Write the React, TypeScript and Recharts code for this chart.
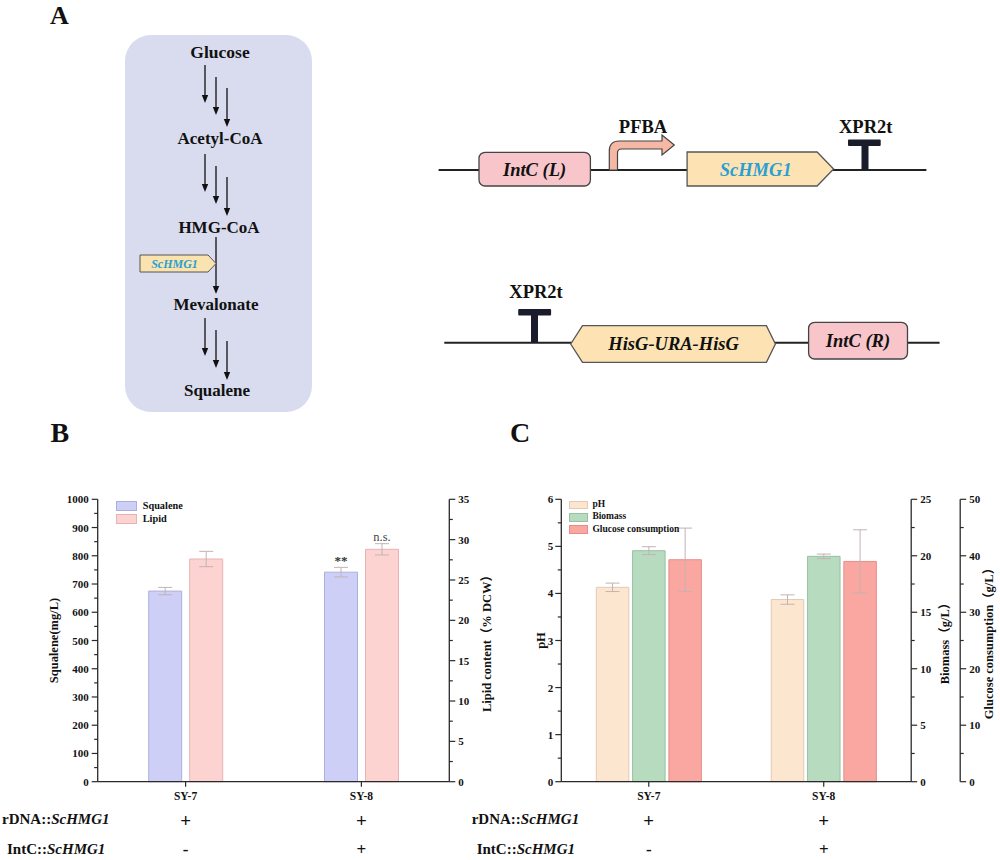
import React from 'react';
import { BarChart, Bar, XAxis, YAxis, ErrorBar, LabelList, Legend } from 'recharts';

const FONT = "'Liberation Serif', 'Times New Roman', 'Noto Sans CJK SC', serif";
const AXIS = '#2a2a2a';

// ---------- shared categories ----------
const strains = ['SY-7', 'SY-8'];
const rdnaMarks = ['+', '+'];
const intcMarks = ['-', '+'];

// ---------- panel B ----------
const squaleneValues = [675, 742];
const squaleneErrors = [13, 17];
const squaleneSig = ['', '**'];
const lipidValues = [27.6, 28.8];
const lipidErrors = [0.95, 0.7];
const lipidSig = ['', 'n.s.'];
const squaleneTicks = [0, 100, 200, 300, 400, 500, 600, 700, 800, 900, 1000];
const lipidTicks = [0, 5, 10, 15, 20, 25, 30, 35];
const legendOrderB = ['Squalene', 'Lipid'];

// ---------- panel C ----------
const phValues = [4.13, 3.87];
const phErrors = [0.09, 0.1];
const biomassValues = [20.45, 19.95];
const biomassErrors = [0.35, 0.2];
const glucoseValues = [39.3, 39.0];
const glucoseErrors = [5.6, 5.6];
const phTicks = [0, 1, 2, 3, 4, 5, 6];
const biomassTicks = [0, 5, 10, 15, 20, 25];
const glucoseTicks = [0, 10, 20, 30, 40, 50];
const legendOrderC = ['pH', 'Biomass', 'Glucose consumption'];

const COLORS: Record<string, { fill: string; stroke: string }> = {
  Squalene: { fill: '#cdcff7', stroke: '#aeb0dc' },
  Lipid: { fill: '#fdd3d1', stroke: '#e6b4b2' },
  pH: { fill: '#fde6cf', stroke: '#e2cab4' },
  Biomass: { fill: '#b7dbbf', stroke: '#98c0a2' },
  'Glucose consumption': { fill: '#fba7a1', stroke: '#e68d88' },
};
const ERR = '#c4b2b2';

const dataB = strains.map((name, i) => ({
  name,
  squalene: squaleneValues[i],
  squaleneErr: squaleneErrors[i],
  squaleneSig: squaleneSig[i],
  lipid: lipidValues[i],
  lipidErr: lipidErrors[i],
  lipidSig: lipidSig[i],
}));

const dataC = strains.map((name, i) => ({
  name,
  ph: phValues[i],
  phErr: phErrors[i],
  biomass: biomassValues[i],
  biomassErr: biomassErrors[i],
  glucose: glucoseValues[i],
  glucoseErr: glucoseErrors[i],
}));

const withMinor = (ticks: number[]) => {
  const out: number[] = [];
  ticks.forEach((t, i) => {
    out.push(t);
    if (i < ticks.length - 1) out.push((t + ticks[i + 1]) / 2);
  });
  return out;
};

const YTick = (props: any) => {
  const { x, y, payload, side, majors, gap = 9 } = props;
  const isMajor = majors.includes(payload.value);
  const dir = side === 'left' ? -1 : 1;
  const len = isMajor ? 6 : 3.5;
  return (
    <g>
      <line x1={x} y1={y} x2={x + dir * len} y2={y} stroke={AXIS} strokeWidth={1.2} />
      {isMajor && (
        <text
          x={x + dir * gap}
          y={y}
          textAnchor={side === 'left' ? 'end' : 'start'}
          dominantBaseline="central"
          fontFamily={FONT}
          fontWeight="bold"
          fontSize={11}
          fill="#111"
        >
          {payload.value}
        </text>
      )}
    </g>
  );
};

const XTick = (props: any) => {
  const { x, y, payload, index, rowX } = props;
  return (
    <g fontFamily={FONT} fontWeight="bold" fill="#111">
      <line x1={x} y1={y} x2={x} y2={y + 5} stroke={AXIS} strokeWidth={1.2} />
      <text x={x} y={y + 14.5} textAnchor="middle" dominantBaseline="central" fontSize={11.5}>
        {payload.value}
      </text>
      <text x={x} y={y + 38.5} textAnchor="middle" dominantBaseline="central" fontSize={19}>
        {rdnaMarks[index]}
      </text>
      <text x={x} y={y + 67.5} textAnchor="middle" dominantBaseline="central" fontSize={17}>
        {intcMarks[index]}
      </text>
      {index === 0 && (
        <>
          <text x={rowX} y={y + 37.5} dominantBaseline="central" fontSize={15}>
            rDNA::<tspan fontStyle="italic">ScHMG1</tspan>
          </text>
          <text x={rowX + 5} y={y + 67.5} dominantBaseline="central" fontSize={15}>
            IntC::<tspan fontStyle="italic">ScHMG1</tspan>
          </text>
        </>
      )}
    </g>
  );
};

const yLabel = (text: string, dx: number) => ({
  content: (p: any) => {
    const vb = p.viewBox || { x: 0, y: 0, width: 0, height: 0 };
    const cx = vb.x + dx;
    const cy = vb.y + vb.height / 2;
    return (
      <text
        x={cx}
        y={cy}
        transform={`rotate(-90 ${cx} ${cy})`}
        textAnchor="middle"
        dominantBaseline="central"
        fontFamily={FONT}
        fontWeight="bold"
        fontSize={12.5}
        fill="#111"
      >
        {text}
      </text>
    );
  },
});

const makeLegend = (order: string[], cfg: { fontSize: number; rowH: number; sw: number; sh: number; gap: number }) =>
  (props: any) => {
    const items = [...(props.payload || [])].sort(
      (a: any, b: any) => order.indexOf(a.value) - order.indexOf(b.value)
    );
    return (
      <div style={{ fontFamily: FONT, fontWeight: 'bold', fontSize: cfg.fontSize, color: '#111' }}>
        {items.map((it: any) => (
          <div key={it.value} style={{ display: 'flex', alignItems: 'center', height: cfg.rowH }}>
            <div
              style={{
                width: cfg.sw,
                height: cfg.sh,
                background: COLORS[it.value]?.fill || it.color,
                border: `1px solid ${COLORS[it.value]?.stroke || it.color}`,
                boxSizing: 'border-box',
              }}
            />
            <span style={{ marginLeft: cfg.gap, lineHeight: 1, whiteSpace: 'nowrap' }}>{it.value}</span>
          </div>
        ))}
      </div>
    );
  };

const legendB = makeLegend(legendOrderB, { fontSize: 10.3, rowH: 13.3, sw: 20.7, sh: 10.3, gap: 6 });
const legendC = makeLegend(legendOrderC, { fontSize: 9.5, rowH: 12.2, sw: 18.9, sh: 8.8, gap: 4.8 });

const txt = { fontFamily: FONT, fontWeight: 'bold' as const, fill: '#111' };

const Arrow = ({ x, y1, y2 }: { x: number; y1: number; y2: number }) => (
  <g>
    <line x1={x} y1={y1} x2={x} y2={y2 - 7} stroke="#111" strokeWidth={1.3} />
    <polygon points={`${x - 3.2},${y2 - 8} ${x + 3.2},${y2 - 8} ${x},${y2}`} fill="#111" />
  </g>
);

const Triple = ({ y0 }: { y0: number }) => (
  <g>
    <Arrow x={205} y1={y0} y2={y0 + 38} />
    <Arrow x={216} y1={y0 + 12} y2={y0 + 50} />
    <Arrow x={227} y1={y0 + 23} y2={y0 + 62} />
  </g>
);

const PanelA = () => (
  <svg width={1000} height={460} style={{ position: 'absolute', left: 0, top: 0 }}>
    <text x={50} y={23.5} fontSize={26} {...txt}>A</text>
    <text x={50.5} y={442.3} fontSize={28} {...txt}>B</text>
    <text x={510} y={442.3} fontSize={28} {...txt}>C</text>

    {/* pathway */}
    <rect x={125} y={35} width={187} height={377} rx={26} fill="#d9dcef" />
    <text x={220} y={52} textAnchor="middle" dominantBaseline="central" fontSize={17.5} {...txt}>Glucose</text>
    <Triple y0={65} />
    <text x={220} y={138} textAnchor="middle" dominantBaseline="central" fontSize={17} {...txt}>Acetyl-CoA</text>
    <Triple y0={154} />
    <text x={219} y={227} textAnchor="middle" dominantBaseline="central" fontSize={17} {...txt}>HMG-CoA</text>
    <Arrow x={216} y1={237} y2={294} />
    <polygon points="140,255 208,255 216,263.5 208,272 140,272" fill="#fbe3b0" stroke="#555" strokeWidth={1} />
    <text x={174.5} y={263.5} textAnchor="middle" dominantBaseline="central" fontSize={12} fontFamily={FONT} fontWeight="bold" fontStyle="italic" fill="#2a9fd0">ScHMG1</text>
    <text x={216} y={304} textAnchor="middle" dominantBaseline="central" fontSize={17} {...txt}>Mevalonate</text>
    <Triple y0={318} />
    <text x={217} y={390} textAnchor="middle" dominantBaseline="central" fontSize={17} {...txt}>Squalene</text>

    {/* construct line 1 */}
    <line x1={438.6} y1={170} x2={926.4} y2={170} stroke="#222" strokeWidth={2} />
    <rect x={479} y={152.3} width={111.4} height={33.7} rx={6} fill="#f8c6ca" stroke="#444" strokeWidth={1.3} />
    <text x={534.6} y={170} textAnchor="middle" dominantBaseline="central" fontSize={18.5} fontFamily={FONT} fontWeight="bold" fontStyle="italic" fill="#111">IntC (L)</text>
    <path
      d="M609.3,170 L609.3,151 Q609.3,141 619.3,141 L662,141 L662,135 L674.3,145 L662,155 L662,149 L621.5,149 Q617.5,149 617.5,153 L617.5,170 Z"
      fill="#f6b8a5"
      stroke="#444"
      strokeWidth={1.2}
    />
    <text x={643} y={127} textAnchor="middle" dominantBaseline="central" fontSize={18.5} {...txt}>PFBA</text>
    <polygon points="687.1,152 817.1,152 833.6,169 817.1,186 687.1,186" fill="#fde3b3" stroke="#555" strokeWidth={1.3} />
    <text x={755.7} y={170} textAnchor="middle" dominantBaseline="central" fontSize={18.5} fontFamily={FONT} fontWeight="bold" fontStyle="italic" fill="#2a9fd4">ScHMG1</text>
    <rect x={861.5} y={142} width={7} height={28} fill="#1a1c2c" />
    <rect x={848} y={139.5} width={32.7} height={6.5} rx={1} fill="#1a1c2c" />
    <text x={865.7} y={127} textAnchor="middle" dominantBaseline="central" fontSize={18.5} {...txt}>XPR2t</text>

    {/* construct line 2 */}
    <line x1={444.3} y1={342.7} x2={939.6} y2={342.7} stroke="#222" strokeWidth={2} />
    <rect x={531} y={313} width={7} height={29.7} fill="#1a1c2c" />
    <rect x={518.2} y={309} width={32.9} height={6.5} rx={1} fill="#1a1c2c" />
    <text x={536} y={291.7} textAnchor="middle" dominantBaseline="central" fontSize={18.5} {...txt}>XPR2t</text>
    <polygon points="570.7,344 582.5,325.7 766.4,325.7 775.4,344 766.4,362.3 582.5,362.3" fill="#fde3b3" stroke="#555" strokeWidth={1.3} />
    <text x={673.6} y={344} textAnchor="middle" dominantBaseline="central" fontSize={18.5} fontFamily={FONT} fontWeight="bold" fontStyle="italic" fill="#111">HisG-URA-HisG</text>
    <rect x={808.6} y={322.3} width={98.9} height={36.7} rx={6} fill="#f8c6ca" stroke="#444" strokeWidth={1.3} />
    <text x={858} y={341} textAnchor="middle" dominantBaseline="central" fontSize={18.5} fontFamily={FONT} fontWeight="bold" fontStyle="italic" fill="#111">IntC (R)</text>
  </svg>
);

const axisLine = { stroke: AXIS, strokeWidth: 1.3 };

const ChartB = () => (
  <div style={{ position: 'absolute', left: 0, top: 480 }}>
    <BarChart width={500} height={380} data={dataB} margin={{ top: 19.3, right: 0, left: 0, bottom: 0 }} barSize={33} barGap={8}>
      <XAxis
        dataKey="name"
        height={78.3}
        tickLine={false}
        tickSize={0}
        tickMargin={0}
        interval={0}
        axisLine={axisLine}
        tick={<XTick rowX={2} />}
      />
      <YAxis
        yAxisId="left"
        orientation="left"
        width={97.7}
        domain={[0, 1000]}
        ticks={withMinor(squaleneTicks)}
        interval={0}
        tickLine={false}
        tickSize={0}
        tickMargin={0}
        axisLine={axisLine}
        tick={<YTick side="left" majors={squaleneTicks} />}
        label={yLabel('Squalene(mg/L)', 54)}
      />
      <YAxis
        yAxisId="right"
        orientation="right"
        width={50.7}
        domain={[0, 35]}
        ticks={withMinor(lipidTicks)}
        interval={0}
        tickLine={false}
        tickSize={0}
        tickMargin={0}
        axisLine={axisLine}
        tick={<YTick side="right" majors={lipidTicks} />}
        label={yLabel('Lipid content（% DCW）', 37.7)}
      />
      <Legend layout="vertical" align="center" verticalAlign="middle" content={legendB} wrapperStyle={{ left: 116, top: 19.2, width: 200, height: 30 }} />
      <Bar yAxisId="left" dataKey="squalene" name="Squalene" fill={COLORS.Squalene.fill} stroke={COLORS.Squalene.stroke} strokeWidth={1} isAnimationActive={false}>
        <ErrorBar dataKey="squaleneErr" width={7} stroke={ERR} strokeWidth={1} />
        <LabelList dataKey="squaleneSig" position="top" offset={7} style={{ fontFamily: FONT, fontSize: 13, fontWeight: 'bold', fill: '#333' }} />
      </Bar>
      <Bar yAxisId="right" dataKey="lipid" name="Lipid" fill={COLORS.Lipid.fill} stroke={COLORS.Lipid.stroke} strokeWidth={1} isAnimationActive={false}>
        <ErrorBar dataKey="lipidErr" width={7} stroke={ERR} strokeWidth={1} />
        <LabelList dataKey="lipidSig" position="top" offset={8} style={{ fontFamily: FONT, fontSize: 12.5, fill: '#444' }} />
      </Bar>
    </BarChart>
  </div>
);

const ChartC = () => (
  <div style={{ position: 'absolute', left: 470, top: 480 }}>
    <BarChart width={530} height={380} data={dataC} margin={{ top: 19.3, right: 0, left: 0, bottom: 0 }} barSize={32.5} barGap={3.8}>
      <XAxis
        dataKey="name"
        height={78.3}
        tickLine={false}
        tickSize={0}
        tickMargin={0}
        interval={0}
        axisLine={axisLine}
        tick={<XTick rowX={1.7} />}
      />
      <YAxis
        yAxisId="ph"
        orientation="left"
        width={91.3}
        domain={[0, 6]}
        ticks={withMinor(phTicks)}
        interval={0}
        tickLine={false}
        tickSize={0}
        tickMargin={0}
        axisLine={axisLine}
        tick={<YTick side="left" majors={phTicks} gap={8} />}
        label={yLabel('pH', 71)}
      />
      <YAxis
        yAxisId="bio"
        orientation="right"
        width={49}
        domain={[0, 25]}
        ticks={withMinor(biomassTicks)}
        interval={0}
        tickLine={false}
        tickSize={0}
        tickMargin={0}
        axisLine={axisLine}
        tick={<YTick side="right" majors={biomassTicks} />}
        label={yLabel('Biomass（g/L）', 33.5)}
      />
      <YAxis
        yAxisId="glu"
        orientation="right"
        width={39.8}
        domain={[0, 50]}
        ticks={withMinor(glucoseTicks)}
        interval={0}
        tickLine={false}
        tickSize={0}
        tickMargin={0}
        axisLine={axisLine}
        tick={<YTick side="right" majors={glucoseTicks} />}
        label={yLabel('Glucose consumption（g/L）', 29)}
      />
      <Legend layout="vertical" align="center" verticalAlign="middle" content={legendC} wrapperStyle={{ left: 98.7, top: 18.9, width: 220, height: 40 }} />
      <Bar yAxisId="ph" dataKey="ph" name="pH" fill={COLORS.pH.fill} stroke={COLORS.pH.stroke} strokeWidth={1} isAnimationActive={false}>
        <ErrorBar dataKey="phErr" width={7} stroke={ERR} strokeWidth={1} />
      </Bar>
      <Bar yAxisId="bio" dataKey="biomass" name="Biomass" fill={COLORS.Biomass.fill} stroke={COLORS.Biomass.stroke} strokeWidth={1} isAnimationActive={false}>
        <ErrorBar dataKey="biomassErr" width={7} stroke={ERR} strokeWidth={1} />
      </Bar>
      <Bar yAxisId="glu" dataKey="glucose" name="Glucose consumption" fill={COLORS['Glucose consumption'].fill} stroke={COLORS['Glucose consumption'].stroke} strokeWidth={1} isAnimationActive={false}>
        <ErrorBar dataKey="glucoseErr" width={7} stroke={ERR} strokeWidth={1} />
      </Bar>
    </BarChart>
  </div>
);

export default function App() {
  return (
    <div style={{ position: 'absolute', left: 0, top: 0, width: 1000, height: 860, background: '#fff', fontFamily: FONT, overflow: 'hidden' }}>
      <PanelA />
      <ChartB />
      <ChartC />
    </div>
  );
}
